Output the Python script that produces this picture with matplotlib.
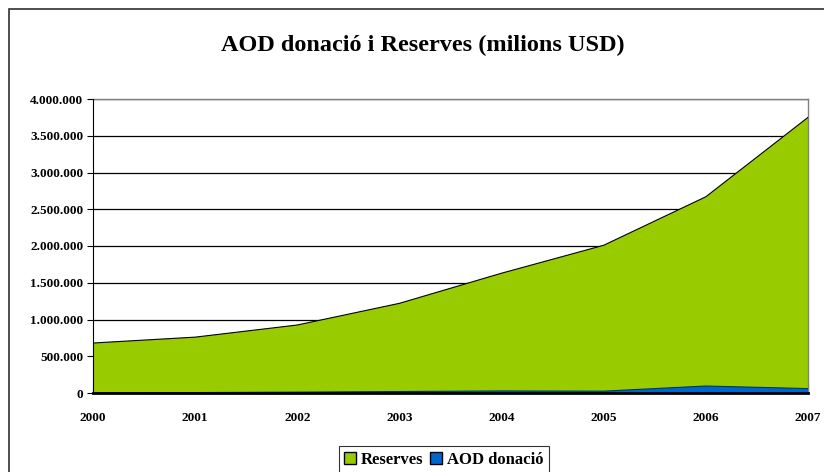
import matplotlib.pyplot as plt
from matplotlib.patches import Rectangle, Patch
from matplotlib.ticker import FuncFormatter

years = [2000, 2001, 2002, 2003, 2004, 2005, 2006, 2007]
reserves = [680000, 760000, 925000, 1220000, 1630000, 2010000, 2670000, 3750000]
aod_donacio = [3000, 6000, 12000, 20000, 28000, 25000, 95000, 60000]

plt.rcParams['font.family'] = ['Liberation Serif', 'DejaVu Serif']
plt.rcParams['font.weight'] = 'bold'

fig = plt.figure(figsize=(8.24, 4.72), dpi=100)
ax = fig.add_axes([93 / 824, 1 - 393 / 472, 715 / 824, 294 / 472])

# outer chart frame (cut off at right and bottom like the original)
fig.patches.append(Rectangle((9 / 824, -0.1), 1.2, 1 - 9 / 472 + 0.1,
                             transform=fig.transFigure, fill=False,
                             edgecolor='#303030', linewidth=1.2))

ax.fill_between(years, reserves, color='#99CC00', edgecolor='none', zorder=2)
ax.plot(years, reserves, color='black', linewidth=0.8, zorder=3)
ax.fill_between(years, aod_donacio, color='#0066CC', edgecolor='none', zorder=4)
ax.plot(years, aod_donacio, color='#003366', linewidth=0.8, zorder=5)

ax.set_xlim(2000, 2007)
ax.set_ylim(0, 4000000)
ax.set_yticks(range(0, 4000001, 500000))
ax.yaxis.set_major_formatter(FuncFormatter(lambda v, p: f"{int(v):,}".replace(',', '.')))
ax.set_xticks(years)
ax.grid(axis='y', color='black', linewidth=0.9, zorder=1)

for s in ('top', 'right'):
    ax.spines[s].set_color('#808080')
    ax.spines[s].set_linewidth(1.0)
ax.spines['left'].set_color('black')
ax.spines['left'].set_zorder(6)
ax.spines['bottom'].set_linewidth(2.0)
ax.spines['bottom'].set_zorder(6)

ax.tick_params(axis='y', direction='out', length=4, labelsize=9.5, pad=3)
ax.tick_params(axis='x', direction='in', length=4, labelsize=9.5, pad=14)
for lab in ax.get_xticklabels() + ax.get_yticklabels():
    lab.set_fontweight('bold')

fig.text(0.513, 1 - 45 / 472, 'AOD donació i Reserves (milions USD)',
         ha='center', va='center', fontsize=17.5, fontweight='bold')

handles = [Patch(facecolor='#99CC00', edgecolor='black', label='Reserves'),
           Patch(facecolor='#0066CC', edgecolor='black', label='AOD donació')]
leg = fig.legend(handles=handles, loc='center', bbox_to_anchor=(444 / 824, 1 - 460 / 472),
                 ncol=2, frameon=True, fancybox=False, fontsize=12,
                 handlelength=0.7, handleheight=0.7, handletextpad=0.3,
                 columnspacing=0.4, borderpad=0.35)
leg.get_frame().set_edgecolor('black')
leg.get_frame().set_linewidth(0.8)
for t in leg.get_texts():
    t.set_fontweight('bold')

fig.savefig('out.png', dpi=100)
